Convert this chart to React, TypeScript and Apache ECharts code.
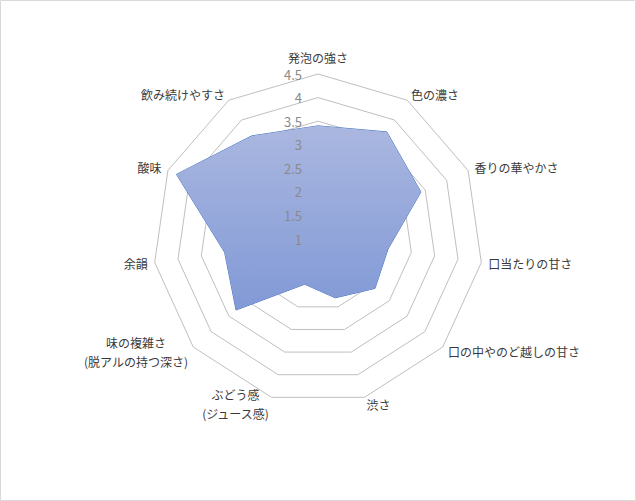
import React, { useEffect, useRef } from "react";
import * as echarts from "echarts";

// Indicators in clockwise order starting from the top (as in the reference)
const categories: string[] = [
  "発泡の強さ",
  "色の濃さ",
  "香りの華やかさ",
  "口当たりの甘さ",
  "口の中やのど越しの甘さ",
  "渋さ",
  "ぶどう感\n(ジュース感)",
  "味の複雑さ\n(脱アルの持つ深さ)",
  "余韻",
  "酸味",
  "飲み続けやすさ",
];

const values: number[] = [3.4, 3.7, 3.4, 2.5, 2.6, 2.3, 2.0, 3.3, 3.0, 4.3, 3.6];

const axisMin = 1;
const axisMax = 4.5;
const axisInterval = 0.5;

// ECharts places radar indicators counter-clockwise; reorder so that the
// visual order is clockwise like the reference.
function toCcw<T>(arr: T[]): T[] {
  return [arr[0], ...arr.slice(1).reverse()];
}

export default function App() {
  const ref = useRef<HTMLDivElement>(null);

  useEffect(() => {
    if (!ref.current) return;
    const chart = echarts.init(ref.current, undefined, { renderer: "svg" });
    const cats = toCcw(categories);
    const vals = toCcw(values);
    const makeIndicator = (withLabel: boolean) =>
      cats.map((name, i) => {
        const ind: any = { name, min: axisMin, max: axisMax };
        if (withLabel && i === 0) {
          ind.axisLabel = { show: true };
        }
        return ind;
      });

    const common = {
      center: [318, 239],
      radius: 165,
      startAngle: 90,
      splitNumber: Math.round((axisMax - axisMin) / axisInterval),
      shape: "polygon",
      nameGap: 7,
      axisLine: { show: false },
      axisTick: { show: false },
      splitArea: { show: false },
    };

    chart.setOption({
      animation: false,
      backgroundColor: "#ffffff",
      graphic: [
        {
          type: "rect",
          shape: { x: 0.5, y: 0.5, width: 635, height: 500 },
          style: { fill: "none", stroke: "#d9d9d9", lineWidth: 1 },
          silent: true,
        },
      ],
      radar: [
        {
          ...common,
          indicator: makeIndicator(false),
          axisName: {
            color: "#3a3a3a",
            fontSize: 12,
            fontFamily: "Noto Sans CJK JP",
            formatter: (name: string) =>
              name
                .split("\n")
                .map((l) => "{c|" + l + "}")
                .join("\n"),
            rich: {
              c: {
                align: "center",
                color: "#3a3a3a",
                fontSize: 12,
                fontFamily: "Noto Sans CJK JP",
                lineHeight: 19,
              },
            },
          },
          axisLabel: { show: false },
          splitLine: { lineStyle: { color: "#bfbfbf", width: 1 } },
        },
        {
          ...common,
          z: 10,
          indicator: makeIndicator(true),
          axisName: { show: false },
          axisLabel: {
            show: false,
            color: "#8a8a8a",
            fontSize: 13,
            fontFamily: "Noto Sans CJK JP",
            margin: 16,
            showMinLabel: true,
            showMaxLabel: true,
          },
          splitLine: { show: false },
        },
      ],
      series: [
        {
          type: "radar",
          radarIndex: 0,
          symbol: "none",
          lineStyle: { color: "#4472c4", width: 1 },
          areaStyle: {
            opacity: 1,
            color: new echarts.graphic.LinearGradient(0, 0, 0, 1, [
              { offset: 0, color: "#aab7e0" },
              { offset: 1, color: "#8199d6" },
            ]),
          },
          data: [{ value: vals, name: "評価" }],
        },
      ],
    });
    return () => chart.dispose();
  }, []);

  return (
    <div
      ref={ref}
      style={{ position: "absolute", left: 0, top: 0, width: 636, height: 501 }}
    />
  );
}
